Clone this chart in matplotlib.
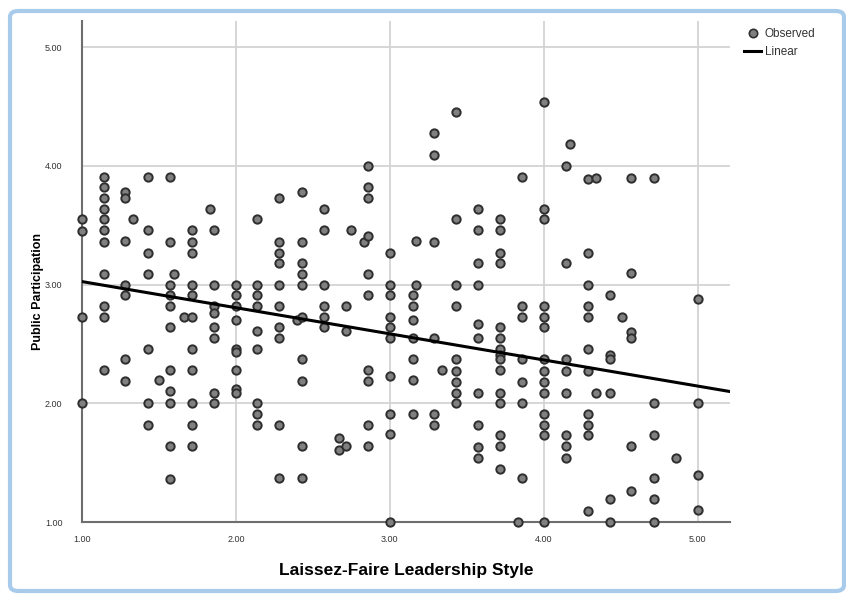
import numpy as np
import matplotlib
matplotlib.use("Agg")
import matplotlib.pyplot as plt
from matplotlib.patches import FancyBboxPatch
from matplotlib.lines import Line2D

# Laissez-faire score (x) for each column of points, and the participation scores in it
x_levels = [1.00, 1.14, 1.28, 1.33, 1.43, 1.50, 1.57, 1.60, 1.66, 1.715, 1.83, 1.857,
            2.00, 2.14, 2.28, 2.40, 2.43, 2.57, 2.67, 2.715, 2.75, 2.835, 2.86,
            3.00, 3.15, 3.17, 3.29, 3.34, 3.43, 3.57, 3.715, 3.83, 3.86,
            4.00, 4.146, 4.17, 4.29, 4.34, 4.43, 4.51, 4.57, 4.716, 4.86, 5.00]
y_groups = [
    [3.55, 3.45, 2.73, 2.00],
    [3.91, 3.82, 3.73, 3.64, 3.55, 3.46, 3.36, 3.09, 2.82, 2.73, 2.28],
    [3.78, 3.73, 3.37, 3.00, 2.91, 2.37, 2.19],
    [3.55],
    [3.91, 3.46, 3.27, 3.09, 2.46, 2.00, 1.82],
    [2.20],
    [3.91, 3.36, 3.00, 2.91, 2.82, 2.64, 2.28, 2.10, 2.00, 1.64, 1.36],
    [3.09],
    [2.73],
    [3.46, 3.36, 3.27, 3.00, 2.91, 2.73, 2.46, 2.28, 2.00, 1.82, 1.64],
    [3.64],
    [3.46, 3.00, 2.82, 2.76, 2.64, 2.55, 2.09, 2.00],
    [3.00, 2.91, 2.82, 2.70, 2.46, 2.43, 2.28, 2.12, 2.09],
    [3.55, 3.00, 2.91, 2.82, 2.61, 2.46, 2.00, 1.91, 1.82],
    [3.73, 3.36, 3.27, 3.18, 3.00, 2.82, 2.64, 2.55, 1.82, 1.37],
    [2.70],
    [3.78, 3.36, 3.18, 3.09, 3.00, 2.73, 2.37, 2.19, 1.64, 1.37],
    [3.64, 3.46, 3.00, 2.82, 2.73, 2.64],
    [1.71, 1.61],
    [2.82, 2.61, 1.64],
    [3.46],
    [3.36],
    [4.00, 3.82, 3.73, 3.41, 3.09, 2.91, 2.28, 2.19, 1.82, 1.64],
    [3.27, 3.00, 2.91, 2.73, 2.64, 2.55, 2.23, 1.91, 1.74, 1.00],
    [2.91, 2.82, 2.70, 2.55, 2.37, 2.20, 1.91],
    [3.37, 3.00],
    [4.28, 4.09, 3.36, 2.55, 1.91, 1.82],
    [2.28],
    [4.45, 3.55, 3.00, 2.82, 2.37, 2.27, 2.18, 2.09, 2.00],
    [3.64, 3.46, 3.18, 3.00, 2.67, 2.55, 2.09, 1.82, 1.63, 1.54],
    [3.55, 3.46, 3.27, 3.18, 2.64, 2.55, 2.46, 2.41, 2.37, 2.28, 2.09, 2.00, 1.73, 1.64, 1.45],
    [1.00],
    [3.91, 2.82, 2.73, 2.37, 2.18, 2.00, 1.37],
    [4.54, 3.64, 3.55, 2.82, 2.73, 2.64, 2.37, 2.27, 2.18, 2.09, 1.91, 1.82, 1.73, 1.00],
    [4.00, 3.18, 2.37, 2.27, 2.09, 1.73, 1.64, 1.54],
    [4.18],
    [3.89, 3.27, 3.00, 2.82, 2.73, 2.46, 2.27, 1.91, 1.82, 1.73, 1.09],
    [3.90, 2.09],
    [2.91, 2.41, 2.37, 2.09, 1.19, 1.00],
    [2.73],
    [3.90, 3.10, 2.60, 2.55, 1.64, 1.26],
    [3.90, 2.00, 1.73, 1.37, 1.19, 1.00],
    [1.54],
    [2.88, 2.00, 1.40, 1.10],
]

# linear fit line (intercept, slope)
fit_intercept = 3.245
fit_slope = -0.22

ticks = [1.0, 2.0, 3.0, 4.0, 5.0]
tick_labels = ["1.00", "2.00", "3.00", "4.00", "5.00"]

x = np.concatenate([[xv] * len(ys) for xv, ys in zip(x_levels, y_groups)])
y = np.concatenate(y_groups)

plt.rcParams['font.family'] = ['Liberation Sans', 'DejaVu Sans']

fig = plt.figure(figsize=(8.46, 5.96), dpi=100)
fig.patch.set_facecolor('white')

# window frame around the chart
frame = FancyBboxPatch((10 / 846, 5 / 596), 834 / 846, 580 / 596,
                       boxstyle="round,pad=0,rounding_size=0.01",
                       transform=fig.transFigure, facecolor='white',
                       edgecolor='#a8cbec', linewidth=3, zorder=-5)
fig.patches.append(frame)

ax = fig.add_axes([82 / 846, 1 - 522 / 596, 648 / 846, 501 / 596])
ax.set_zorder(1)
ax.patch.set_alpha(0)

x_max = 5.21
y_max = 5.22
ax.set_xlim(1.0, x_max)
ax.set_ylim(1.0, y_max)

ax.set_xticks(ticks)
ax.set_xticklabels(tick_labels)
ax.set_yticks(ticks)
ax.set_yticklabels(tick_labels)
ax.tick_params(length=0, labelsize=6.5, labelcolor='#333333')
ax.tick_params(axis='x', pad=9)
ax.tick_params(axis='y', pad=14)

ax.grid(True, color='#d3d3d3', linewidth=1.3)
ax.set_axisbelow(True)
for side in ['top', 'right']:
    ax.spines[side].set_visible(False)
for side in ['left', 'bottom']:
    ax.spines[side].set_color('#6e6e6e')
    ax.spines[side].set_linewidth(1.5)

ax.scatter(x, y, s=36, facecolor='#808080', edgecolor='#2e2e2e',
           linewidth=1.4, zorder=3, clip_on=False)

xs = np.array([1.0, x_max])
ax.plot(xs, fit_intercept + fit_slope * xs, color='black', linewidth=2.2, zorder=4)

ax.set_xlabel('Laissez-Faire Leadership Style', fontsize=12.5, fontweight='bold')
ax.set_ylabel('Public Participation', fontsize=9, fontweight='bold')
ax.xaxis.set_label_coords(0.5, -0.082)
ax.yaxis.set_label_coords(-0.058, 0.46)

handles = [
    Line2D([], [], marker='o', linestyle='none', markersize=6,
           markerfacecolor='#808080', markeredgecolor='#2e2e2e', markeredgewidth=1.2),
    Line2D([], [], color='black', linewidth=2.2),
]
fig.legend(handles, ['Observed', 'Linear'], loc='upper left',
           bbox_to_anchor=(739 / 846, 1 - 23 / 596), frameon=False,
           fontsize=8.5, handlelength=1.5, handletextpad=0.3,
           labelspacing=0.55, borderaxespad=0, labelcolor='#333333')

fig.savefig('out.png', dpi=100)
